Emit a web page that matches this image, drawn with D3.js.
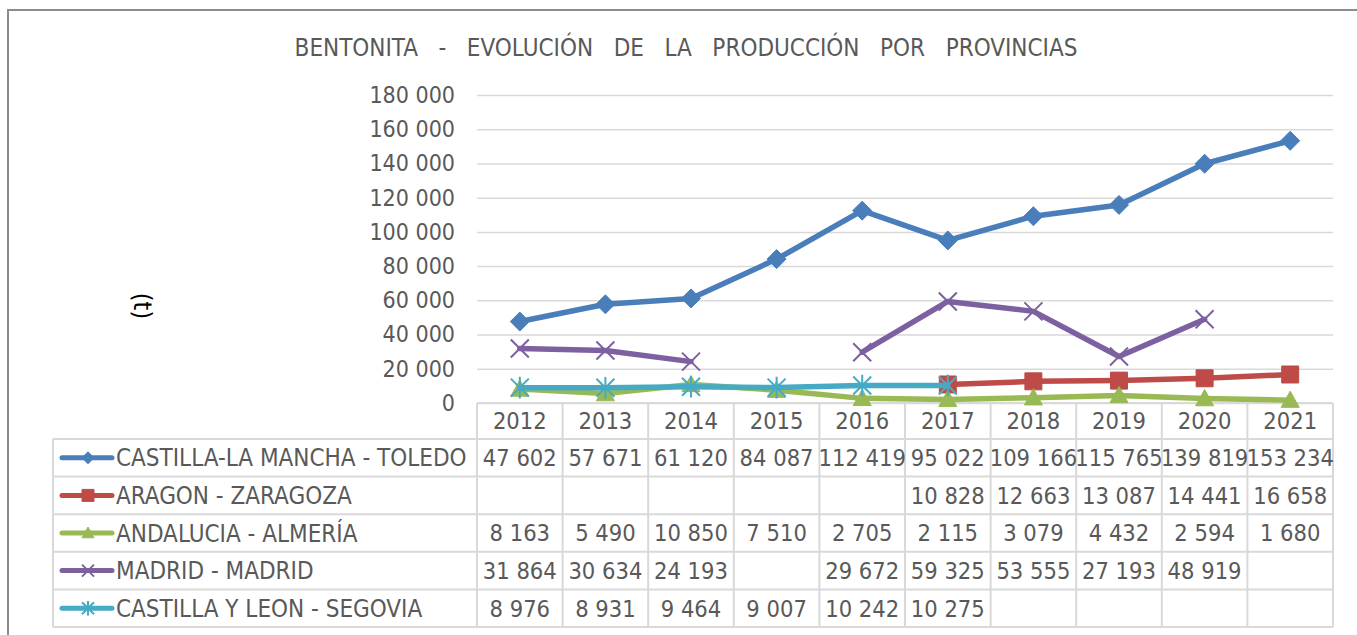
<!DOCTYPE html>
<html>
<head>
<meta charset="utf-8">
<script src="https://cdn.jsdelivr.net/npm/d3@7"></script>
<style>
  html, body { margin: 0; padding: 0; background: #fff; }
  svg text { font-family: "DejaVu Sans Condensed", "DejaVu Sans", sans-serif; fill: #595959; }
</style>
</head>
<body>
<svg id="chart" width="1357" height="635"></svg>
<script>
// data
const years = ["2012", "2013", "2014", "2015", "2016", "2017", "2018", "2019", "2020", "2021"];
const seriesNames = ["CASTILLA-LA MANCHA - TOLEDO", "ARAGON - ZARAGOZA", "ANDALUCIA - ALMERÍA", "MADRID - MADRID", "CASTILLA Y LEON - SEGOVIA"];
const toledo   = [47602, 57671, 61120, 84087, 112419, 95022, 109166, 115765, 139819, 153234];
const zaragoza = [null, null, null, null, null, 10828, 12663, 13087, 14441, 16658];
const almeria  = [8163, 5490, 10850, 7510, 2705, 2115, 3079, 4432, 2594, 1680];
const madrid   = [31864, 30634, 24193, null, 29672, 59325, 53555, 27193, 48919, null];
const segovia  = [8976, 8931, 9464, 9007, 10242, 10275, null, null, null, null];
const yTicks = [0, 20000, 40000, 60000, 80000, 100000, 120000, 140000, 160000, 180000];

const allValues = [toledo, zaragoza, almeria, madrid, segovia];
const colors = ["#4a7ebb", "#be4b48", "#98b954", "#7d60a0", "#46aac5"];
const markers = ["diamond", "square", "triangle", "x", "star"];
const markerSizes = [19, 17, 18, 18, 18];

const svg = d3.select("#chart");
const plotLeft = 477, plotRight = 1333, plotTop = 95, plotBottom = 403;
const tableLeft = 53, headerH = 36, rowH = 37.6;

const loc = d3.formatLocale({decimal: ",", thousands: " ", grouping: [3], currency: ["", ""]});
const fmt = loc.format(",d");

// frame round the chart
svg.append("path")
  .attr("d", "M8,640 L8,10 L1360,10")
  .attr("fill", "none")
  .attr("stroke", "#8c8c8c")
  .attr("stroke-width", 2);

// title
svg.append("text")
  .attr("x", 686).attr("y", 56)
  .attr("text-anchor", "middle")
  .style("font-size", "24px")
  .style("white-space", "pre")
  .text("BENTONITA   -   EVOLUCIÓN   DE   LA   PRODUCCIÓN   POR   PROVINCIAS");

const x = d3.scaleBand().domain(years).range([plotLeft, plotRight]).padding(0);
const y = d3.scaleLinear().domain([0, 180000]).range([plotBottom, plotTop]);

// grid lines
const grid = svg.append("g")
  .attr("transform", "translate(" + plotLeft + ",0)")
  .call(d3.axisLeft(y).tickValues(yTicks).tickSize(-(plotRight - plotLeft)).tickFormat(""));
grid.select(".domain").remove();
grid.selectAll("line").attr("stroke", "#d9d9d9").attr("stroke-width", 1.5);

// y tick labels
const yAxis = svg.append("g")
  .attr("transform", "translate(" + (plotLeft - 22) + ",0)")
  .call(d3.axisLeft(y).tickValues(yTicks).tickSize(0).tickPadding(0).tickFormat(fmt));
yAxis.select(".domain").remove();
yAxis.selectAll("text")
  .attr("fill", "#595959")
  .style("font-size", "23px")
  .style("font-family", "\"DejaVu Sans Condensed\", \"DejaVu Sans\", sans-serif");

// y axis title
svg.append("text")
  .attr("transform", "translate(143,306) rotate(90)")
  .attr("text-anchor", "middle")
  .attr("dy", "0.35em")
  .style("font-size", "25px")
  .style("fill", "#000")
  .text("(t)");

// marker shapes
function markerPath(type, s) {
  const h = s / 2;
  if (type === "diamond") return "M0," + (-h) + "L" + h + ",0L0," + h + "L" + (-h) + ",0Z";
  if (type === "square") return "M" + (-h) + "," + (-h) + "h" + s + "v" + s + "h" + (-s) + "Z";
  if (type === "triangle") return "M0," + (-h) + "L" + h + "," + (h * 0.8) + "L" + (-h) + "," + (h * 0.8) + "Z";
  if (type === "x") return "M" + (-h) + "," + (-h) + "L" + h + "," + h + "M" + (-h) + "," + h + "L" + h + "," + (-h);
  return "M" + (-h) + "," + (-h) + "L" + h + "," + h + "M" + (-h) + "," + h + "L" + h + "," + (-h) + "M0," + (-h * 1.2) + "L0," + (h * 1.2);
}
function drawMarker(g, type, color, s) {
  const p = g.append("path").attr("d", markerPath(type, s));
  if (type === "x" || type === "star") {
    p.attr("fill", "none").attr("stroke", color).attr("stroke-width", 2);
  } else {
    p.attr("fill", color).attr("stroke", color).attr("stroke-width", 1);
  }
}

// table (drawn before lines so markers sit on top)
const table = svg.append("g");
const lineColor = "#d9d9d9";
const tableBottom = plotBottom + headerH + rowH * seriesNames.length;
// horizontal rules
table.append("line").attr("x1", plotLeft).attr("x2", plotRight).attr("y1", plotBottom).attr("y2", plotBottom)
  .attr("stroke", lineColor).attr("stroke-width", 2);
seriesNames.forEach((n, i) => {
  const yy = plotBottom + headerH + rowH * i;
  table.append("line").attr("x1", tableLeft).attr("x2", plotRight).attr("y1", yy).attr("y2", yy)
    .attr("stroke", lineColor).attr("stroke-width", 2);
});
table.append("line").attr("x1", tableLeft).attr("x2", plotRight).attr("y1", tableBottom).attr("y2", tableBottom)
  .attr("stroke", lineColor).attr("stroke-width", 2);
// vertical rules
table.append("line").attr("x1", tableLeft).attr("x2", tableLeft).attr("y1", plotBottom + headerH).attr("y2", tableBottom)
  .attr("stroke", lineColor).attr("stroke-width", 2);
years.concat(["end"]).forEach(yr => {
  const xx = yr === "end" ? plotRight : x(yr);
  table.append("line").attr("x1", xx).attr("x2", xx).attr("y1", plotBottom).attr("y2", tableBottom)
    .attr("stroke", lineColor).attr("stroke-width", 2);
});
// year header
table.selectAll(".yr").data(years).enter().append("text")
  .attr("x", d => x(d) + x.bandwidth() / 2)
  .attr("y", plotBottom + headerH / 2)
  .attr("dy", "0.36em")
  .attr("text-anchor", "middle")
  .style("font-size", "23.5px")
  .text(d => d);
// rows
seriesNames.forEach((name, i) => {
  const cy = plotBottom + headerH + rowH * i + rowH / 2;
  const key = table.append("g");
  key.append("line").attr("x1", 62).attr("x2", 112).attr("y1", cy).attr("y2", cy)
    .attr("stroke", colors[i]).attr("stroke-width", 5).attr("stroke-linecap", "round");
  drawMarker(key.append("g").attr("transform", "translate(88," + cy + ")"), markers[i], colors[i], 12);
  table.append("text").attr("x", 116).attr("y", cy).attr("dy", "0.36em")
    .style("font-size", "24px").text(name);
  table.selectAll(null).data(years.map((yr, j) => ({yr: yr, v: allValues[i][j]})).filter(d => d.v != null))
    .enter().append("text")
    .attr("x", d => x(d.yr) + x.bandwidth() / 2)
    .attr("y", cy).attr("dy", "0.36em")
    .attr("text-anchor", "middle")
    .style("font-size", "23.5px")
    .text(d => fmt(d.v));
});

// series lines and markers
const line = d3.line()
  .defined(d => d.v != null)
  .x(d => x(d.yr) + x.bandwidth() / 2)
  .y(d => y(d.v));

allValues.forEach((vals, i) => {
  const pts = years.map((yr, j) => ({yr: yr, v: vals[j]}));
  const g = svg.append("g");
  g.append("path").datum(pts)
    .attr("d", line)
    .attr("fill", "none")
    .attr("stroke", colors[i])
    .attr("stroke-width", 5.5)
    .attr("stroke-linejoin", "round")
    .attr("stroke-linecap", "round");
  pts.filter(d => d.v != null).forEach(d => {
    drawMarker(g.append("g").attr("transform", "translate(" + (x(d.yr) + x.bandwidth() / 2) + "," + y(d.v) + ")"),
      markers[i], colors[i], markerSizes[i]);
  });
});
</script>
</body>
</html>
